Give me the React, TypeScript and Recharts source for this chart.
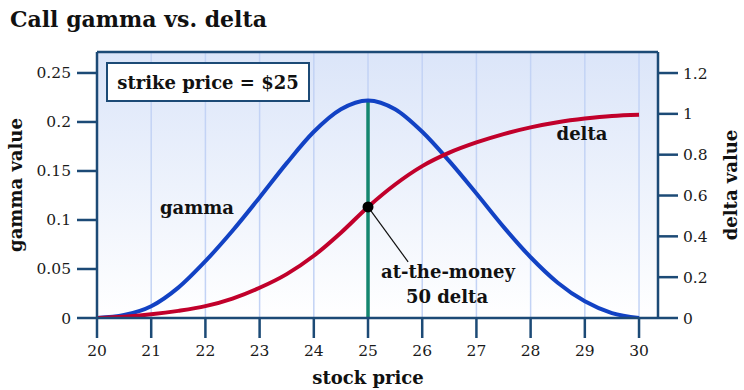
import React from "react";
import {
  ComposedChart,
  Line,
  XAxis,
  YAxis,
  CartesianGrid,
  ReferenceLine,
  ReferenceDot,
} from "recharts";

// stock price sampled every half dollar
const prices = [20, 20.5, 21, 21.5, 22, 22.5, 23, 23.5, 24, 24.5, 25, 25.5, 26, 26.5, 27, 27.5, 28, 28.5, 29, 29.5, 30];
const gammaValues = [0, 0.003, 0.012, 0.031, 0.058, 0.089, 0.123, 0.158, 0.19, 0.213, 0.222, 0.213, 0.19, 0.16, 0.127, 0.093, 0.062, 0.036, 0.017, 0.005, 0];
const deltaValues = [0, 0.006, 0.018, 0.035, 0.058, 0.095, 0.148, 0.215, 0.305, 0.418, 0.544, 0.654, 0.744, 0.81, 0.86, 0.901, 0.934, 0.959, 0.977, 0.99, 0.996];

const priceTicks = [20, 21, 22, 23, 24, 25, 26, 27, 28, 29, 30];
const gammaTicks = [0, 0.05, 0.1, 0.15, 0.2, 0.25];
const deltaTicks = [0, 0.2, 0.4, 0.6, 0.8, 1, 1.2];

const strike = 25;
const strikeGamma = 0.222;
const atmDelta = 0.544;
const calloutEnd = { price: 25.74, delta: 0.275 };

const NAVY = "#1c4a76";
const BLUE = "#1242c4";
const RED = "#c1002b";
const TEAL = "#14866f";
const FONT = "'DejaVu Serif', Georgia, serif";

const data = prices.map((p, i) => ({ price: p, gamma: gammaValues[i], delta: deltaValues[i] }));

const tickText = { fill: "#1a1a1a", fontSize: 15.5, fontFamily: FONT };

function Text({ x, y, children, size = 18, rotate = 0, anchor = "center" }: any) {
  const tx = anchor === "left" ? "0" : "-50%";
  return (
    <div
      style={{
        position: "absolute",
        left: x,
        top: y,
        transform: `translate(${tx}, -50%) rotate(${rotate}deg)`,
        fontFamily: FONT,
        fontWeight: "bold",
        fontSize: size,
        color: "#111",
        whiteSpace: "nowrap",
        lineHeight: 1,
      }}
    >
      {children}
    </div>
  );
}

export default function App() {
  return (
    <div style={{ position: "relative", width: 744, height: 390, background: "#fff" }}>
      <style>{`body{margin:0}`}</style>
      <ComposedChart
        width={744}
        height={390}
        data={data}
        margin={{ top: 52, right: 0, bottom: 0, left: 0 }}
      >
        <defs>
          <linearGradient id="plotBg" x1="0" y1="0" x2="0" y2="1">
            <stop offset="0%" stopColor="#dbe5f9" />
            <stop offset="100%" stopColor="#ffffff" />
          </linearGradient>
        </defs>
        <CartesianGrid
          horizontal={false}
          stroke="#c3d3f5"
          strokeWidth={1.5}
          fill="url(#plotBg)"
          fillOpacity={1}
          yAxisId="g"
        />
        <XAxis
          dataKey="price"
          type="number"
          domain={[20, 30.35]}
          ticks={priceTicks}
          allowDataOverflow
          height={72}
          tickSize={20}
          tickMargin={7}
          axisLine={{ stroke: NAVY, strokeWidth: 2.5 }}
          tickLine={{ stroke: NAVY, strokeWidth: 2.5 }}
          tick={tickText}
        />
        <YAxis
          yAxisId="g"
          orientation="left"
          domain={[0, 0.2714]}
          ticks={gammaTicks}
          allowDataOverflow
          width={97}
          tickSize={20}
          tickMargin={6}
          axisLine={{ stroke: NAVY, strokeWidth: 2.5 }}
          tickLine={{ stroke: NAVY, strokeWidth: 2.5 }}
          tick={tickText}
        />
        <YAxis
          yAxisId="d"
          orientation="right"
          domain={[0, 1.303]}
          ticks={deltaTicks}
          allowDataOverflow
          width={86}
          tickSize={20}
          tickMargin={5}
          axisLine={{ stroke: NAVY, strokeWidth: 2.5 }}
          tickLine={{ stroke: NAVY, strokeWidth: 2.5 }}
          tick={tickText}
        />
        <ReferenceLine yAxisId="g" y={0.2714} stroke={NAVY} strokeWidth={2.5} />
        <ReferenceLine
          yAxisId="g"
          segment={[
            { x: strike, y: 0 },
            { x: strike, y: strikeGamma },
          ]}
          stroke={TEAL}
          strokeWidth={3.5}
        />
        <ReferenceLine
          yAxisId="d"
          segment={[
            { x: strike, y: atmDelta },
            { x: calloutEnd.price, y: calloutEnd.delta },
          ]}
          stroke="#111"
          strokeWidth={1.2}
        />
        <Line
          yAxisId="g"
          type="monotone"
          dataKey="gamma"
          stroke={BLUE}
          strokeWidth={4}
          dot={false}
          isAnimationActive={false}
        />
        <Line
          yAxisId="d"
          type="monotone"
          dataKey="delta"
          stroke={RED}
          strokeWidth={4}
          dot={false}
          isAnimationActive={false}
        />
        <ReferenceDot yAxisId="d" x={strike} y={atmDelta} r={5.5} fill="#000" stroke="none" />
      </ComposedChart>

      <Text x={10} y={19} size={22} anchor="left">Call gamma vs. delta</Text>
      <Text x={16} y={185} size={18} rotate={-90}>gamma value</Text>
      <Text x={731} y={185} size={18} rotate={-90}>delta value</Text>
      <Text x={368} y={378} size={18}>stock price</Text>
      <Text x={197} y={208} size={18}>gamma</Text>
      <Text x={582} y={134} size={18}>delta</Text>
      <Text x={448} y={272} size={18}>at-the-money</Text>
      <Text x={447} y={297} size={18}>50 delta</Text>

      <div
        style={{
          position: "absolute",
          left: 106,
          top: 62,
          width: 204,
          height: 40,
          boxSizing: "border-box",
          border: `2.5px solid ${NAVY}`,
          background: "#fff",
          display: "flex",
          alignItems: "center",
          justifyContent: "center",
          fontFamily: FONT,
          fontWeight: "bold",
          fontSize: 18,
          color: "#111",
          whiteSpace: "nowrap",
        }}
      >
        strike price = $25
      </div>
    </div>
  );
}
